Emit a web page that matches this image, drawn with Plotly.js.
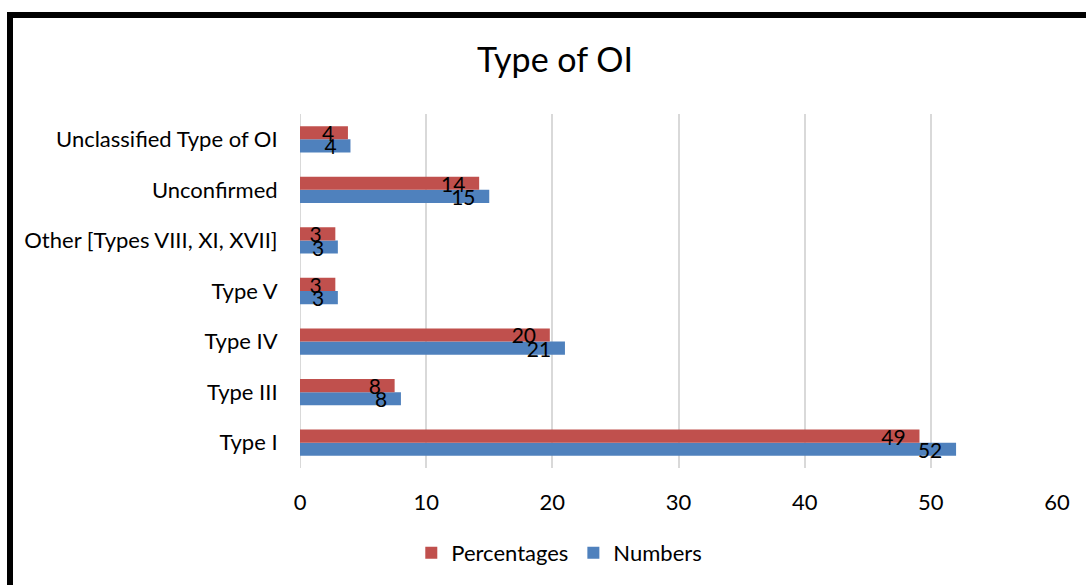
<!DOCTYPE html>
<html>
<head>
<meta charset="utf-8">
<script src="https://cdn.plot.ly/plotly-3.0.1.min.js"></script>
<style>
html,body{margin:0;padding:0;background:#fff;overflow:hidden;}
#chart{width:1086px;height:585px;}
#frame{position:absolute;left:7px;top:12px;width:2000px;height:2000px;border-left:6px solid #000;border-top:6px solid #000;pointer-events:none;}
</style>
</head>
<body>
<div id="chart"></div>
<div id="frame"></div>
<script>
const categories = ["Type I", "Type III", "Type IV", "Type V", "Other [Types VIII, XI, XVII]", "Unconfirmed", "Unclassified Type of OI"];
const numbers = [52, 8, 21, 3, 3, 15, 4];
const percentages = [49.1, 7.5, 19.8, 2.8, 2.8, 14.2, 3.8];
const tickVals = [0, 10, 20, 30, 40, 50, 60];

const FONT = "Lato, 'Open Sans', sans-serif";

const traces = [
  {
    type: "bar", orientation: "h", name: "Numbers",
    y: categories, x: numbers,
    marker: {color: "#4f81bd"},
    texttemplate: "%{x:.0f}\u00a0\u00a0", textposition: "inside", insidetextanchor: "end",
    textangle: 0, constraintext: "none", cliponaxis: false,
    textfont: {color: "#000", size: 21, family: FONT},
    hoverinfo: "x+y"
  },
  {
    type: "bar", orientation: "h", name: "Percentages",
    y: categories, x: percentages,
    marker: {color: "#c0504d"},
    texttemplate: "%{x:.0f}\u00a0\u00a0", textposition: "inside", insidetextanchor: "end",
    textangle: 0, constraintext: "none", cliponaxis: false,
    textfont: {color: "#000", size: 21, family: FONT},
    hoverinfo: "x+y"
  }
];

const layout = {
  width: 1086, height: 585,
  margin: {l: 300, r: 29, t: 114, b: 117},
  paper_bgcolor: "#fff", plot_bgcolor: "#fff",
  font: {family: FONT, size: 22, color: "#000"},
  title: {text: "Type of OI", font: {size: 34, family: FONT, color: "#000"}, x: 0.511, xref: "container", xanchor: "center", y: 0.897, yref: "container", yanchor: "middle"},
  barmode: "group", bargap: 0.48, bargroupgap: 0,
  xaxis: {
    range: [0, 60], tickvals: tickVals, showgrid: true, gridcolor: "#d9d9d9", gridwidth: 2,
    zeroline: false, showline: false, ticks: "outside", ticklen: 15, tickcolor: "rgba(0,0,0,0)",
    tickfont: {size: 22, family: FONT}, fixedrange: true
  },
  yaxis: {
    type: "category", categoryorder: "array", categoryarray: categories,
    showgrid: false, zeroline: false, showline: false,
    ticks: "outside", ticklen: 17, tickcolor: "rgba(0,0,0,0)",
    tickfont: {size: 22, family: FONT}, fixedrange: true
  },
  shapes: [{type: "line", xref: "x", yref: "paper", x0: 0, x1: 0, y0: 0, y1: 1, line: {color: "#d9d9d9", width: 2}, layer: "below"}],
  showlegend: true,
  legend: {orientation: "h", traceorder: "reversed", xref: "container", yref: "container", x: 0.515, xanchor: "center", y: 0.055, yanchor: "middle", font: {size: 22, family: FONT}, itemwidth: 30}
};

Plotly.newPlot("chart", traces, layout, {displayModeBar: false, staticPlot: true});
</script>
</body>
</html>
